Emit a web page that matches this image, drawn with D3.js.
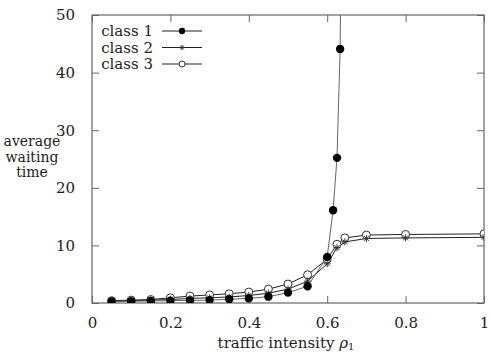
<!DOCTYPE html>
<html>
<head lang="en">
	<meta charset="UTF-8">
	<title></title>
	<script src="https://cdn.jsdelivr.net/npm/d3@7"></script>
	<style>
		body { margin: 0; background: #fff; }
	</style>
</head>
<body>
<script>

	// traffic intensity rho_1
	var rhoA = [0.05, 0.1, 0.15, 0.2, 0.25, 0.3, 0.35, 0.4, 0.45, 0.5, 0.55, 0.6, 0.615, 0.625, 0.633, 0.64];
	var rhoB = [0.05, 0.1, 0.15, 0.2, 0.25, 0.3, 0.35, 0.4, 0.45, 0.5, 0.55, 0.6, 0.625, 0.645, 0.7, 0.8, 1.0];

	var class1 = [0.25, 0.3, 0.35, 0.4, 0.45, 0.5, 0.65, 0.8, 1.1, 1.8, 2.9, 8.0, 16.1, 25.2, 44.1, 90];
	var class2 = [0.3, 0.4, 0.5, 0.6, 0.8, 0.9, 1.05, 1.3, 1.7, 2.4, 3.8, 6.8, 9.6, 10.6, 11.2, 11.3, 11.4];
	var class3 = [0.4, 0.5, 0.6, 0.9, 1.2, 1.4, 1.6, 1.9, 2.4, 3.3, 4.9, 7.6, 10.2, 11.3, 11.8, 11.9, 12.0];

	var xTicks = [0, 0.2, 0.4, 0.6, 0.8, 1];
	var yTicks = [0, 10, 20, 30, 40, 50];
	var seriesNames = ["class 1", "class 2", "class 3"];

	var FONT = "'DejaVu Serif', serif";
	var W = 489, H = 354;
	var L = 92, R = 484, T = 15, B = 303;

	var svg = d3.select('body').append('svg').attr('width', W).attr('height', H)
		.style('font-family', FONT);

	var x = d3.scaleLinear().domain([0, 1]).range([L, R]);
	var y = d3.scaleLinear().domain([0, 50]).range([B, T]);

	svg.append('defs').append('clipPath').attr('id', 'clip')
		.append('rect').attr('x', L).attr('y', T).attr('width', R - L).attr('height', B - T);

	var frame = '#666';

	// axes with inward ticks, mirrored
	function styleAxis(g) {
		g.attr('font-family', null).attr('font-size', null);
		g.select('.domain').remove();
		g.selectAll('.tick line').attr('stroke', frame);
		g.selectAll('.tick text').style('font-family', FONT).style('font-size', '15px').attr('fill', '#222');
	}
	svg.append('g').attr('transform', 'translate(0,' + B + ')')
		.call(d3.axisBottom(x).tickValues(xTicks).tickSizeInner(-7).tickPadding(14).tickFormat(d3.format('')))
		.call(styleAxis);
	svg.append('g').attr('transform', 'translate(0,' + T + ')')
		.call(d3.axisTop(x).tickValues(xTicks).tickSizeInner(-7).tickFormat(''))
		.call(styleAxis);
	svg.append('g').attr('transform', 'translate(' + L + ',0)')
		.call(d3.axisLeft(y).tickValues(yTicks).tickSizeInner(-7).tickPadding(17))
		.call(styleAxis);
	svg.append('g').attr('transform', 'translate(' + R + ',0)')
		.call(d3.axisRight(y).tickValues(yTicks).tickSizeInner(-7).tickFormat(''))
		.call(styleAxis);

	svg.append('rect').attr('x', L).attr('y', T).attr('width', R - L).attr('height', B - T)
		.attr('fill', 'none').attr('stroke', frame).attr('stroke-width', 1.2);

	var plot = svg.append('g').attr('clip-path', 'url(#clip)');

	function series(xs, ys, lineColor) {
		var pts = xs.map(function (d, i) { return [d, ys[i]]; });
		plot.append('path')
			.attr('d', d3.line().x(function (d) { return x(d[0]); }).y(function (d) { return y(d[1]); })(pts))
			.attr('fill', 'none').attr('stroke', lineColor).attr('stroke-width', 1);
		return pts;
	}

	function dot(g, cx, cy, k) {
		k = k || 1;
		g.append('circle').attr('cx', cx).attr('cy', cy).attr('r', 4.2 * k).attr('fill', '#000');
	}
	function ring(g, cx, cy, k) {
		k = k || 1;
		g.append('circle').attr('cx', cx).attr('cy', cy).attr('r', 4 * k).attr('fill', '#fff')
			.attr('stroke', '#333').attr('stroke-width', 1);
	}
	function star(g, cx, cy, k) {
		var s = 3.5 * (k || 1);
		[[-s, 0, s, 0], [0, -s, 0, s], [-s * 0.7, -s * 0.7, s * 0.7, s * 0.7], [-s * 0.7, s * 0.7, s * 0.7, -s * 0.7]].forEach(function (l) {
			g.append('line').attr('x1', cx + l[0]).attr('y1', cy + l[1]).attr('x2', cx + l[2]).attr('y2', cy + l[3])
				.attr('stroke', '#333').attr('stroke-width', 1);
		});
	}

	var p3 = series(rhoB, class3, '#222');
	var p2 = series(rhoB, class2, '#222');
	var p1 = series(rhoA, class1, '#666');

	p3.forEach(function (d) { ring(plot, x(d[0]), y(d[1])); });
	p2.forEach(function (d) { star(plot, x(d[0]), y(d[1])); });
	p1.forEach(function (d) { if (d[1] <= 50) dot(plot, x(d[0]), y(d[1])); });

	// legend
	var legend = svg.append('g');
	var markers = [dot, star, ring];
	seriesNames.forEach(function (name, i) {
		var ly = 31 + i * 16.5;
		legend.append('text').attr('x', 153).attr('y', ly + 5).attr('text-anchor', 'end')
			.style('font-size', '15px').attr('fill', '#222').text(name);
		legend.append('line').attr('x1', 162).attr('x2', 202).attr('y1', ly).attr('y2', ly)
			.attr('stroke', '#222').attr('stroke-width', 1);
		markers[i](legend, 182, ly, 0.75);
	});

	// axis titles
	var yl = svg.append('text').attr('text-anchor', 'middle').style('font-size', '14px').attr('fill', '#222');
	['average', 'waiting', 'time'].forEach(function (t, i) {
		yl.append('tspan').attr('x', 32).attr('y', 146 + i * 15.5).text(t);
	});

	var xl = svg.append('text').attr('x', 286).attr('y', 348).attr('text-anchor', 'middle')
		.style('font-size', '15px').attr('fill', '#222');
	xl.append('tspan').text('traffic intensity ');
	xl.append('tspan').style('font-style', 'italic').text('ρ');
	xl.append('tspan').attr('dy', 2).style('font-size', '10px').text('1');

</script>
</body>
</html>
